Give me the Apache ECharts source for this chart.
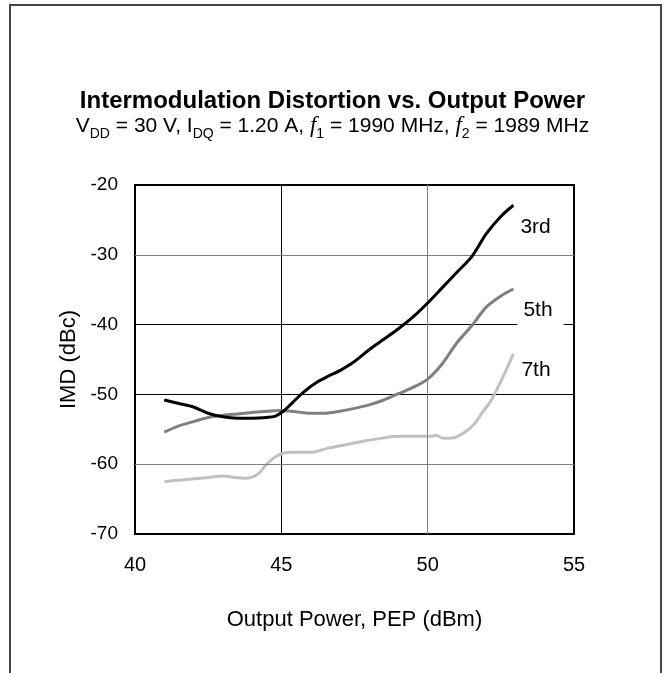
<!DOCTYPE html>
<html><head><meta charset="utf-8">
<script src="https://cdn.jsdelivr.net/npm/echarts@6/dist/echarts.min.js"></script>
<style>html,body{margin:0;padding:0;background:#fff}#c{width:665px;height:673px}</style>
</head><body><div id="c"></div>
<script>
const xTicks = [40, 45, 50, 55];
const yTicks = [-70, -60, -50, -40, -30, -20];
const grayGridX = [50];
const grayGridY = [-30, -60];
const seriesNames = ['3rd', '5th', '7th'];
const imd3rd = [[41,-50.8],[41.5,-51.3],[42,-51.8],[42.5,-52.7],[43,-53.2],[43.5,-53.4],[44,-53.4],[44.5,-53.3],[44.8,-53.1],[45.1,-52.3],[45.4,-51.1],[45.75,-49.7],[46.2,-48.3],[46.6,-47.4],[47,-46.6],[47.5,-45.3],[48,-43.6],[48.5,-42.1],[49,-40.6],[49.5,-38.9],[50,-36.9],[50.5,-34.7],[51,-32.5],[51.5,-30.3],[52,-27],[52.5,-24.5],[52.93,-22.9]];
const imd5th = [[41,-55.4],[41.5,-54.5],[42,-53.9],[42.5,-53.3],[43,-53.0],[43.5,-52.8],[44,-52.6],[44.5,-52.4],[45,-52.3],[45.5,-52.5],[46,-52.7],[46.5,-52.7],[47,-52.4],[47.5,-52.0],[48,-51.5],[48.5,-50.8],[49,-49.9],[49.5,-49.0],[50,-47.8],[50.5,-45.6],[51,-42.6],[51.5,-40.2],[52,-37.5],[52.5,-35.9],[52.93,-34.9]];
const imd7th = [[41,-62.5],[41.5,-62.3],[42,-62.1],[42.5,-61.9],[43,-61.7],[43.4,-61.9],[43.8,-62.0],[44.2,-61.4],[44.5,-60.0],[44.85,-58.8],[45.3,-58.3],[46,-58.3],[46.6,-57.7],[47.2,-57.2],[47.8,-56.7],[48.4,-56.3],[49,-56.0],[49.5,-56.0],[50,-56.0],[50.3,-55.9],[50.55,-56.3],[50.9,-56.2],[51.3,-55.3],[51.6,-54.2],[51.9,-52.4],[52.15,-51.0],[52.4,-49.0],[52.65,-46.8],[52.93,-44.2]];

const FONT = 'Liberation Sans, Arial, sans-serif';
const chart = echarts.init(document.getElementById('c'), null, {renderer: 'canvas'});

const labelBase = {show: true, formatter: '{a}', color: '#000', fontSize: 21, fontFamily: FONT, distance: 0};

const option = {
  animation: false,
  backgroundColor: '#fff',
  graphic: [{
    type: 'rect', shape: {x: 10, y: 5, width: 651, height: 720},
    style: {fill: 'none', stroke: '#444', lineWidth: 2}, silent: true, z: 100
  }],
  title: [{
    text: 'Intermodulation Distortion vs. Output Power',
    left: 'center', top: 84,
    textStyle: {fontFamily: FONT, fontSize: 24, fontWeight: 'bold', color: '#000'}
  }, {
    text: 'V{s|DD} = 30 V, I{s|DQ} = 1.20 A, {f|f}{s|1} = 1990 MHz, {f|f}{s|2} = 1989 MHz',
    left: 'center', top: 106,
    textStyle: {
      fontFamily: FONT, fontSize: 21, fontWeight: 'normal', color: '#000', lineHeight: 30,
      rich: {
        s: {fontFamily: FONT, fontSize: 14, color: '#000', lineHeight: 30, verticalAlign: 'bottom'},
        f: {fontFamily: 'Liberation Serif, serif', fontStyle: 'italic', fontSize: 23, color: '#000', lineHeight: 30}
      }
    }
  }],
  grid: {left: 135, top: 185, right: 91, bottom: 139, show: true, borderColor: '#000', borderWidth: 2, backgroundColor: 'transparent'},
  xAxis: {
    type: 'value', min: xTicks[0], max: xTicks[xTicks.length - 1], interval: xTicks[1] - xTicks[0],
    name: 'Output Power, PEP (dBm)', nameLocation: 'middle', nameGap: 75,
    nameTextStyle: {fontFamily: FONT, fontSize: 22, color: '#000'},
    axisLine: {show: false}, axisTick: {show: false},
    axisLabel: {fontFamily: FONT, fontSize: 20, color: '#000', margin: 21},
    splitLine: {show: true, lineStyle: {color: '#000', width: 1}}
  },
  yAxis: {
    type: 'value', min: yTicks[0], max: yTicks[yTicks.length - 1], interval: yTicks[1] - yTicks[0],
    name: 'IMD (dBc)', nameLocation: 'middle', nameGap: 54,
    nameTextStyle: {fontFamily: FONT, fontSize: 22, color: '#000'},
    axisLine: {show: false}, axisTick: {show: false},
    axisLabel: {fontFamily: FONT, fontSize: 19, color: '#000', margin: 17},
    splitLine: {show: true, lineStyle: {color: '#000', width: 1}}
  },
  series: [{
    type: 'line', data: [], silent: true, z: 1,
    markLine: {
      silent: true, symbol: ['none', 'none'], label: {show: false},
      lineStyle: {color: '#808080', width: 1, type: 'solid'},
      data: grayGridX.map(v => ({xAxis: v})).concat(grayGridY.map(v => ({yAxis: v})))
    }
  }, {
    name: seriesNames[0], type: 'line', data: imd3rd, showSymbol: false, smooth: 0.3, z: 5,
    lineStyle: {color: '#000', width: 3}, itemStyle: {color: '#000'},
    endLabel: Object.assign({}, labelBase, {offset: [7, 22]})
  }, {
    name: seriesNames[1], type: 'line', data: imd5th, showSymbol: false, smooth: 0.3, z: 4,
    lineStyle: {color: '#808080', width: 3}, itemStyle: {color: '#808080'},
    endLabel: Object.assign({}, labelBase, {offset: [4, 21], backgroundColor: '#fff', padding: [2, 11, 8, 6]})
  }, {
    name: seriesNames[2], type: 'line', data: imd7th, showSymbol: false, smooth: 0.3, z: 3,
    lineStyle: {color: '#c0c0c0', width: 3}, itemStyle: {color: '#c0c0c0'},
    endLabel: Object.assign({}, labelBase, {offset: [8, 16]})
  }]
};
chart.setOption(option);
</script>
</body></html>
